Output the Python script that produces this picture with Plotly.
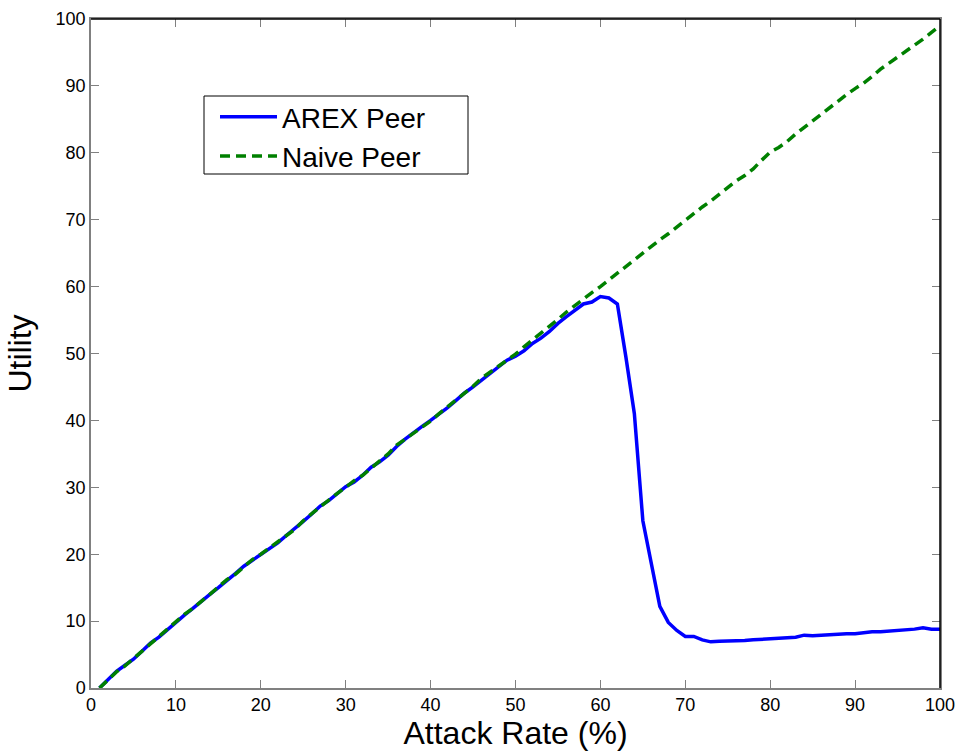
import plotly.graph_objects as go

attack_rate = list(range(1, 101))

naive_peer = [
    0.0, 1.2, 2.4, 3.3, 4.4, 5.6, 6.6, 7.7, 8.8, 9.9,
    11.0, 11.9, 12.9, 14.0, 15.1, 16.2, 17.0, 18.1, 19.2, 20.0,
    20.9, 21.8, 22.7, 23.7, 25.0, 26.1, 27.1, 28.1, 29.1, 30.0,
    31.0, 31.8, 32.9, 34.0, 35.0, 36.3, 37.2, 38.1, 39.0, 39.9,
    41.0, 42.0, 43.0, 44.0, 45.1, 46.3, 47.2, 48.1, 49.0, 49.9,
    51.0, 52.0, 53.0, 54.0, 55.1, 56.2, 57.2, 58.2, 59.1, 60.0,
    61.0, 62.0, 63.1, 64.0, 65.0, 66.1, 67.0, 67.9, 68.9, 70.0,
    71.0, 71.9, 72.8, 73.8, 74.9, 75.8, 76.6, 77.6, 78.9, 80.1,
    80.8, 81.7, 82.8, 83.8, 84.8, 85.8, 86.8, 87.7, 88.7, 89.6,
    90.4, 91.4, 92.5, 93.4, 94.3, 95.1, 96.0, 97.0, 98.0, 99.0,
]

arex_peer = [
    0.0, 1.3, 2.5, 3.4, 4.3, 5.5, 6.7, 7.6, 8.7, 9.9,
    10.9, 11.9, 13.0, 14.0, 15.0, 16.0, 17.1, 18.2, 19.1, 20.0,
    20.8, 21.7, 22.8, 23.8, 24.9, 26.0, 27.2, 28.0, 29.0, 30.1,
    30.8, 31.8, 33.0, 33.8, 34.8, 36.1, 37.2, 38.2, 39.1, 40.0,
    40.9, 41.9, 43.0, 44.1, 45.0, 46.0, 47.1, 48.0, 49.0, 49.6,
    50.4, 51.5, 52.3, 53.3, 54.5, 55.5, 56.5, 57.4, 57.7, 58.5,
    58.3, 57.4, 49.5, 41.0, 25.0, 18.5, 12.2, 9.8, 8.6, 7.7,
    7.7, 7.2, 6.9, 7.0, 7.0, 7.0, 7.1, 7.2, 7.3, 7.3,
    7.4, 7.5, 7.6, 7.9, 7.8, 7.9, 8.0, 8.0, 8.1, 8.1,
    8.3, 8.4, 8.4, 8.5, 8.6, 8.6, 8.8, 9.0, 8.8, 8.8,
]

x_ticks = [0, 10, 20, 30, 40, 50, 60, 70, 80, 90, 100]
y_ticks = [0, 10, 20, 30, 40, 50, 60, 70, 80, 90, 100]

W, H = 958, 751
ML, MR, MT, MB = 91, 18, 19, 63
PW, PH = W - ML - MR, H - MT - MB


def px_to_paper_x(px):
    return (px - ML) / PW


def px_to_paper_y(py):
    return (H - MB - py) / PH


fig = go.Figure()
fig.add_trace(go.Scatter(
    x=attack_rate, y=arex_peer, mode="lines", name="AREX Peer",
    line=dict(color="#0000FF", width=3.5),
))
fig.add_trace(go.Scatter(
    x=attack_rate, y=naive_peer, mode="lines", name="Naive Peer",
    line=dict(color="#008000", width=3.5, dash="10px,6px"),
))

font_family = "Liberation Sans, Arial, sans-serif"

axis_common = dict(
    showgrid=False, zeroline=False, showline=True, linecolor="#808080", linewidth=1.5,
    ticks="inside", ticklen=8, tickcolor="#808080", tickwidth=1,
    mirror="ticks", tickfont=dict(family=font_family, size=18, color="black"),
    automargin=False,
)

fig.update_layout(
    width=W, height=H,
    margin=dict(l=ML, r=MR, t=MT, b=MB),
    paper_bgcolor="white", plot_bgcolor="white",
    font=dict(family=font_family, color="black"),
    xaxis=dict(range=[0, 100], tickvals=x_ticks,
               title=dict(text="Attack Rate (%)", font=dict(size=32), standoff=4),
               **axis_common),
    yaxis=dict(range=[0, 100], tickvals=y_ticks,
               title=dict(text="Utility", font=dict(size=32), standoff=14),
               **axis_common),
    legend=dict(x=px_to_paper_x(215), y=px_to_paper_y(92), xanchor="left", yanchor="top",
                bgcolor="rgba(0,0,0,0)", borderwidth=0,
                font=dict(size=28, family=font_family), itemwidth=57,
                tracegroupgap=0),
    showlegend=True,
)

# legend frame
fig.add_shape(type="rect", xref="paper", yref="paper",
              x0=px_to_paper_x(204), x1=px_to_paper_x(468),
              y0=px_to_paper_y(174), y1=px_to_paper_y(96),
              line=dict(color="black", width=1), fillcolor="white", layer="above")

# darker top and right frame edges
fig.add_shape(type="line", xref="paper", yref="paper", x0=0, x1=1, y0=1, y1=1,
              line=dict(color="black", width=1.5))
fig.add_shape(type="line", xref="paper", yref="paper", x0=1, x1=1, y0=0, y1=1,
              line=dict(color="black", width=1.5))

fig.write_html("out.html")
